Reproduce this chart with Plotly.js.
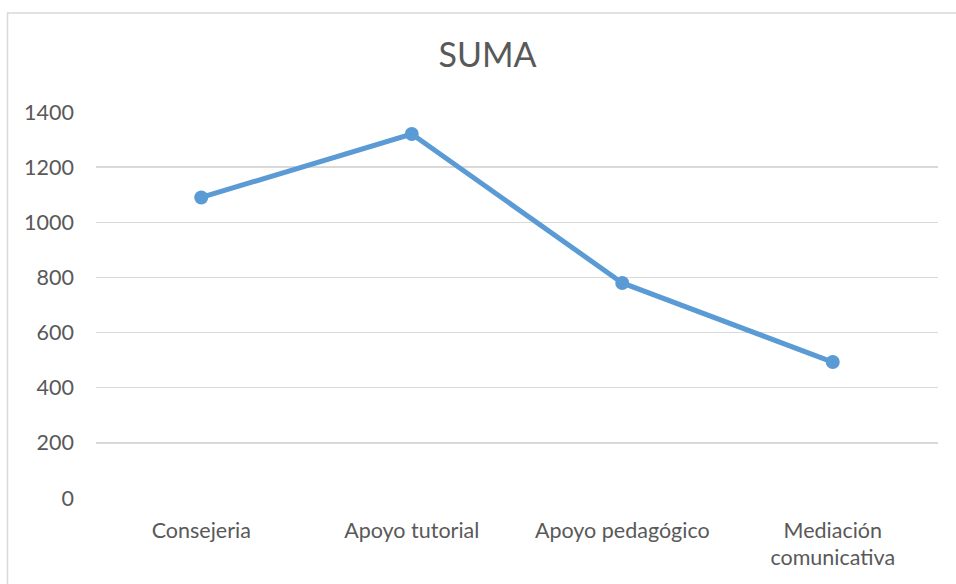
<!DOCTYPE html>
<html>
<head>
<meta charset="utf-8">
<script src="https://cdn.plot.ly/plotly-3.0.1.min.js"></script>
<style>
  html, body { margin: 0; padding: 0; background: #ffffff; }
  #chart { width: 956px; height: 584px; }
</style>
</head>
<body>
<div id="chart"></div>
<script>
const chartTitle = "SUMA";
const categories = ["Consejeria", "Apoyo tutorial", "Apoyo pedagógico", "Mediación<br>comunicativa"];
const sumaValues = [1090, 1320, 780, 493];
const yTickValues = [0, 200, 400, 600, 800, 1000, 1200, 1400];

const trace = {
  type: "scatter",
  mode: "lines+markers",
  x: categories,
  y: sumaValues,
  line: { color: "#5B9BD5", width: 5 },
  marker: { color: "#5B9BD5", size: 14 },
  hoverinfo: "x+y",
  showlegend: false
};

const layout = {
  width: 956,
  height: 584,
  margin: { l: 96, r: 18, t: 112, b: 86 },
  paper_bgcolor: "#ffffff",
  plot_bgcolor: "#ffffff",
  font: { family: "Lato, 'Open Sans', sans-serif", color: "#595959", size: 21.5 },
  title: {
    text: chartTitle,
    font: { family: "Lato, 'Open Sans', sans-serif", size: 34, color: "#595959" },
    xref: "container", x: 0.51, xanchor: "center",
    yref: "container", y: 0.905, yanchor: "middle"
  },
  xaxis: {
    type: "category",
    range: [-0.5, 3.5],
    showgrid: false,
    zeroline: false,
    showline: false,
    ticks: "",
    ticklabelstandoff: 17,
    tickfont: { size: 21.5, color: "#595959" },
    fixedrange: true
  },
  yaxis: {
    range: [0, 1400],
    tickvals: yTickValues,
    ticktext: yTickValues.map(String),
    showgrid: true,
    gridcolor: "#D9D9D9",
    gridwidth: 1.3,
    zeroline: false,
    showline: false,
    ticks: "",
    ticklabelstandoff: 21,
    tickfont: { size: 21.5, color: "#595959" },
    fixedrange: true
  },
  shapes: [
    {
      type: "rect", xref: "paper", yref: "paper",
      x0: -0.1051, x1: 1.2, y0: -0.4, y1: 1.2566,
      line: { color: "#D9D9D9", width: 1.5 },
      fillcolor: "rgba(0,0,0,0)",
      layer: "below"
    }
  ]
};

Plotly.newPlot("chart", [trace], layout, { displayModeBar: false, staticPlot: true });
</script>
</body>
</html>
